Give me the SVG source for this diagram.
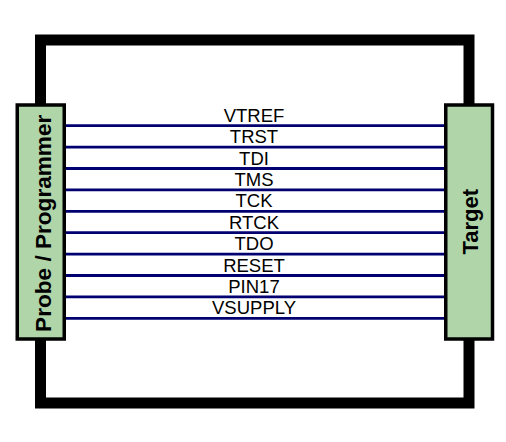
<svg xmlns="http://www.w3.org/2000/svg" width="506" height="442" viewBox="0 0 506 442">
<style>
.frame{fill:none;stroke:#000;stroke-width:11;stroke-linejoin:miter}
.box{fill:#afd5a8;stroke:#000;stroke-width:3.5}
.wire{stroke:#000070;stroke-width:2.8}
.lbl{font-family:"Liberation Sans",Arial,sans-serif;font-size:18.5px;fill:#000;text-anchor:middle}
.title{font-family:"Liberation Sans",Arial,sans-serif;font-weight:bold;fill:#000;text-anchor:middle}
</style>
<rect width="506" height="442" fill="#fff"/>
<g id="frame">
<rect class="frame" x="40.5" y="40" width="428.5" height="363"/>
</g>
<g id="connectors">
<line class="wire" x1="66" y1="125.7" x2="444" y2="125.7"/>
<line class="wire" x1="66" y1="147.1" x2="444" y2="147.1"/>
<line class="wire" x1="66" y1="168.5" x2="444" y2="168.5"/>
<line class="wire" x1="66" y1="189.9" x2="444" y2="189.9"/>
<line class="wire" x1="66" y1="211.3" x2="444" y2="211.3"/>
<line class="wire" x1="66" y1="232.7" x2="444" y2="232.7"/>
<line class="wire" x1="66" y1="254.1" x2="444" y2="254.1"/>
<line class="wire" x1="66" y1="275.5" x2="444" y2="275.5"/>
<line class="wire" x1="66" y1="296.9" x2="444" y2="296.9"/>
<line class="wire" x1="66" y1="318.3" x2="444" y2="318.3"/>
<text class="lbl" x="254" y="121.7">VTREF</text>
<text class="lbl" x="254" y="143.1">TRST</text>
<text class="lbl" x="254" y="164.5">TDI</text>
<text class="lbl" x="254" y="185.9">TMS</text>
<text class="lbl" x="254" y="207.3">TCK</text>
<text class="lbl" x="254" y="228.7">RTCK</text>
<text class="lbl" x="254" y="250.1">TDO</text>
<text class="lbl" x="254" y="271.5">RESET</text>
<text class="lbl" x="254" y="292.9">PIN17</text>
<text class="lbl" x="254" y="314.3">VSUPPLY</text>
</g>
<g id="probe">
<rect class="box" x="17.25" y="105" width="47" height="234"/>
<text class="title" font-size="22.6" transform="translate(50.5,223.3) rotate(-90)">Probe / Programmer</text>
</g>
<g id="target">
<rect class="box" x="445.75" y="105" width="46.75" height="234"/>
<text class="title" font-size="22" transform="translate(477.5,221.7) rotate(-90)">Target</text>
</g>
</svg>
